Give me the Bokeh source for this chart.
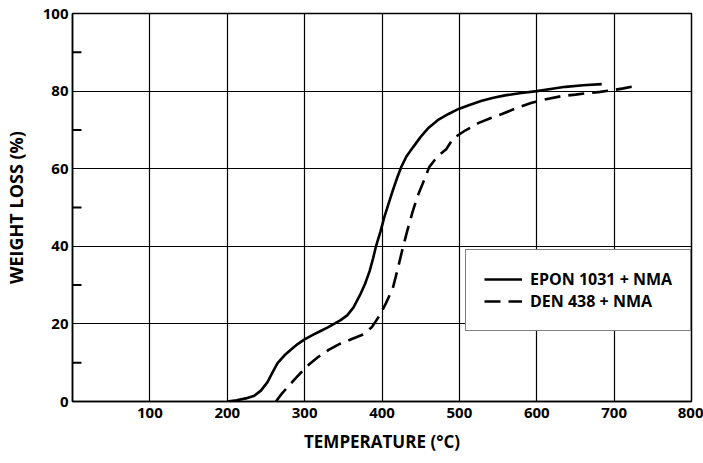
from bokeh.plotting import figure
from bokeh.models import FixedTicker, Legend, LegendItem
from bokeh.embed import file_html
from bokeh.resources import INLINE

# ---- data ----
temp_epon = [200, 212, 224, 235, 243.5, 252, 258, 265, 274, 282.5, 291, 300, 310, 320, 330,
             338, 346, 355, 363, 371.5, 378, 384, 388.5, 392.5, 398, 403, 408.5, 414, 419.5,
             425, 432, 440, 450, 460, 472, 486, 499, 514, 529, 544, 559, 580, 600, 620,
             637, 660, 684]
wl_epon = [0, 0.3, 0.8, 1.5, 2.8, 5.0, 7.3, 9.9, 11.9, 13.4, 14.8, 16.0, 17.1, 18.1, 19.1,
           20.0, 20.9, 22.2, 24.2, 27.4, 30.3, 33.6, 36.9, 40.2, 43.8, 47.5, 51.0, 54.4, 57.6,
           60.5, 63.3, 65.5, 68.2, 70.5, 72.5, 74.1, 75.4, 76.5, 77.5, 78.3, 78.9, 79.5, 80.0, 80.6,
           81.1, 81.5, 81.8]

temp_den = [263, 270, 278, 287, 296, 306, 317, 331, 346, 361, 376, 387, 397, 405, 414, 420.5,
            427, 433.5, 440, 446, 452.5, 461, 471, 483, 492, 508, 525, 540, 555, 575, 593.5,
            612, 632, 650, 667, 682, 697, 712, 728]
wl_den = [0, 1.9, 3.7, 5.7, 7.6, 9.6, 11.4, 13.3, 14.9, 16.1, 17.3, 19.2, 22.2, 25.3, 29.2, 34.3,
          39.7, 44.6, 49.2, 52.9, 56.1, 60.4, 63.0, 65.0, 67.8, 69.9, 71.8, 73.0, 74.1, 75.7, 77.0,
          77.9, 78.7, 79.1, 79.5, 79.8, 80.2, 80.7, 81.3]

series_names = ["EPON 1031 + NMA", "DEN 438 + NMA"]
x_ticks = [100, 200, 300, 400, 500, 600, 700, 800]
x_grid = [100, 200, 300, 400, 500, 600, 700]
y_ticks = [0, 20, 40, 60, 80, 100]
y_minor = [10, 30, 50, 70, 90]
y_grid = [20, 40, 60, 80]

FONT = "Open Sans"
STYLE = "bold"
X_MIN, X_MAX = 0, 800
FRAME_W = 703 - 71 - 12
TICK_LEN_PX = 9

p = figure(width=703, height=463, x_range=(X_MIN, X_MAX), y_range=(0, 100),
           output_backend="svg", toolbar_location=None,
           min_border_left=71, min_border_right=12, min_border_top=13, min_border_bottom=62)
p.background_fill_color = "white"
p.border_fill_color = "white"
p.outline_line_color = "black"
p.outline_line_width = 1.5

# grid
p.xgrid.ticker = FixedTicker(ticks=x_grid)
p.ygrid.ticker = FixedTicker(ticks=y_grid)
for g in (p.xgrid, p.ygrid):
    g.grid_line_color = "black"
    g.grid_line_width = 1.2
    g.grid_line_alpha = 1.0

# x axis
xa = p.xaxis[0]
xa.ticker = FixedTicker(ticks=x_ticks)
xa.major_tick_in = 0
xa.major_tick_out = 0
xa.minor_tick_line_color = None
xa.axis_line_color = "black"
xa.axis_line_width = 1.5
xa.major_label_standoff = 6
xa.major_label_text_font = FONT
xa.major_label_text_font_style = STYLE
xa.major_label_text_font_size = "15px"
xa.major_label_text_color = "black"
xa.axis_label = "TEMPERATURE (°C)"
xa.axis_label_text_font = FONT
xa.axis_label_text_font_size = "17px"
xa.axis_label_text_font_style = STYLE
xa.axis_label_text_color = "black"
xa.axis_label_standoff = 9

# y axis
ya = p.yaxis[0]
ya.ticker = FixedTicker(ticks=y_ticks)
ya.major_tick_in = 0
ya.major_tick_out = 0
ya.minor_tick_line_color = None
ya.axis_line_color = "black"
ya.axis_line_width = 1.5
ya.major_label_standoff = 4
ya.major_label_text_font = FONT
ya.major_label_text_font_style = STYLE
ya.major_label_text_font_size = "15px"
ya.major_label_text_color = "black"
ya.axis_label = "WEIGHT LOSS (%)"
ya.axis_label_text_font = FONT
ya.axis_label_text_font_size = "18px"
ya.axis_label_text_font_style = STYLE
ya.axis_label_text_color = "black"
ya.axis_label_standoff = 12

# inward minor ticks on the left axis (length given in pixels, converted to data units)
tick_len = TICK_LEN_PX * (X_MAX - X_MIN) / FRAME_W
p.segment(x0=[X_MIN] * len(y_minor), y0=y_minor,
          x1=[X_MIN + tick_len] * len(y_minor), y1=y_minor,
          line_color="black", line_width=2)

# curves
r1 = p.line(temp_epon, wl_epon, line_color="black", line_width=2.6)
r2 = p.line(temp_den, wl_den, line_color="black", line_width=2.6, line_dash="16 8")

legend = Legend(items=[LegendItem(label=series_names[0], renderers=[r1]),
                       LegendItem(label=series_names[1], renderers=[r2])],
                location=(393, 70))
legend.label_text_font = FONT
legend.label_text_font_style = STYLE
legend.label_text_font_size = "16px"
legend.label_text_color = "black"
legend.border_line_color = "black"
legend.border_line_width = 1.5
legend.background_fill_color = "white"
legend.background_fill_alpha = 1.0
legend.padding = 18
legend.spacing = 0
legend.margin = 0
legend.glyph_width = 38
legend.glyph_height = 16
legend.label_height = 16
legend.label_standoff = 8
p.add_layout(legend, "center")

open("out.html", "w").write(file_html(p, INLINE))
